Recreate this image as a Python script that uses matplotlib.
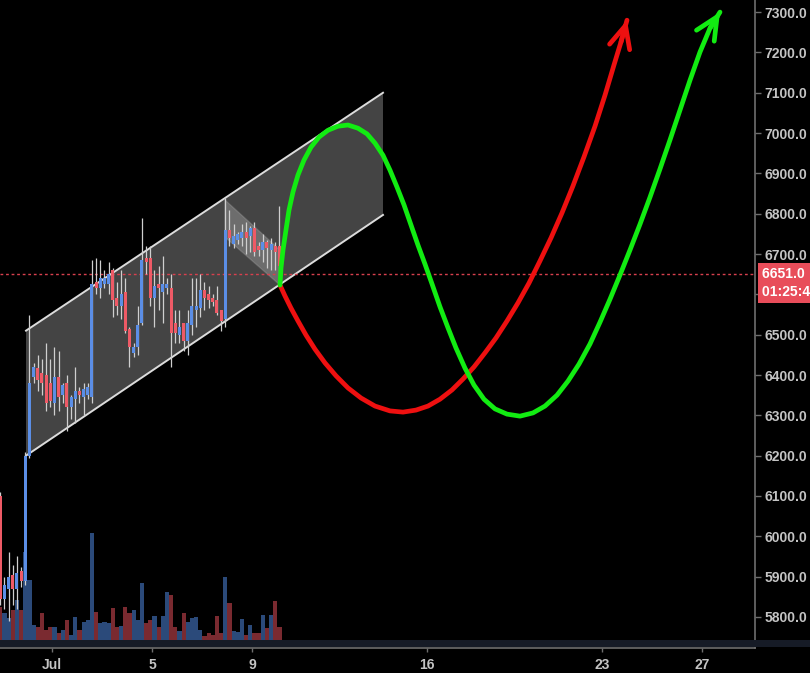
import numpy as np
import matplotlib
matplotlib.use('Agg')
import matplotlib.pyplot as plt
from matplotlib.patches import Polygon, Rectangle
from matplotlib.transforms import blended_transform_factory, offset_copy

# ---------------- data ----------------
# 4-hour candles; time in days of July (1 = Jul 1)
candle_t0 = -1.067
candle_step = 1 / 6
opens = [6100, 5845, 5870, 5905, 5870, 5915, 5890, 6200,
         6395, 6417, 6405, 6400, 6380, 6330, 6395, 6350, 6380, 6320, 6340, 6360, 6345, 6350,
         6345, 6630, 6615, 6625, 6625, 6660, 6590, 6570, 6605, 6515, 6455, 6470,
         6530, 6690, 6690, 6590, 6625, 6605, 6615, 6615, 6530, 6500, 6530, 6485, 6525, 6560, 6565, 6610,
         6600, 6590, 6585, 6560,
         6540, 6760, 6725, 6735, 6740, 6755, 6745, 6765, 6720, 6710, 6730, 6710, 6720, 6720]
closes = [5845, 5880, 5900, 5870, 5910, 5890, 6200, 6380,
          6420, 6388, 6380, 6330, 6335, 6395, 6345, 6375, 6320, 6345, 6360, 6350, 6365, 6370,
          6625, 6615, 6640, 6640, 6650, 6585, 6570, 6600, 6510, 6470, 6470, 6525,
          6685, 6680, 6590, 6620, 6615, 6625, 6625, 6505, 6505, 6520, 6485, 6530, 6570, 6570, 6610, 6590,
          6585, 6580, 6555, 6535,
          6760, 6740, 6745, 6750, 6755, 6740, 6765, 6705, 6710, 6730, 6715, 6725, 6705, 6670]
highs = [6110, 5900, 5960, 5930, 5950, 5925, 6210, 6550,
         6430, 6450, 6440, 6480, 6440, 6470, 6460, 6380, 6400, 6350, 6420, 6370, 6380, 6380,
         6685, 6690, 6685, 6660, 6680, 6665, 6630, 6660, 6640, 6520, 6480, 6570,
         6790, 6720, 6720, 6660, 6670, 6695, 6640, 6650, 6560, 6560, 6530, 6560, 6640, 6640, 6650, 6630,
         6620, 6600, 6620, 6560,
         6840, 6810, 6775, 6755, 6775, 6780, 6770, 6780, 6730, 6750, 6735, 6740, 6730, 6820]
lows = [5830, 5820, 5790, 5830, 5820, 5875, 5880, 6195,
        6380, 6360, 6350, 6310, 6320, 6300, 6310, 6330, 6260, 6290, 6280, 6330, 6300, 6340,
        6330, 6600, 6590, 6615, 6600, 6545, 6550, 6540, 6505, 6420, 6445, 6450,
        6525, 6650, 6570, 6520, 6560, 6530, 6600, 6420, 6480, 6480, 6460, 6450, 6500, 6520, 6545, 6560,
        6565, 6570, 6550, 6510,
        6520, 6720, 6715, 6725, 6720, 6700, 6705, 6695, 6695, 6680, 6665, 6660, 6660, 6620]
volumes = [33, 27, 22, 30, 40, 30, 88, 60,
           15, 13, 27, 10, 13, 13, 7, 10, 20, 5, 23, 10, 18, 20,
           107, 28, 17, 18, 17, 32, 13, 14, 33, 27, 30, 20,
           57, 17, 20, 24, 13, 24, 48, 45, 13, 9, 27, 18, 22, 23, 10, 4,
           7, 5, 24, 7,
           63, 37, 9, 8, 21, 5, 15, 7, 7, 25, 12, 25, 39, 13]

# rising channel (days, price)
channel_days = [-0.04, 14.24]
channel_upper = [6510, 7100]
channel_lower = [6200, 6797]
# bull flag
flag_days = [7.92, 10.12, 10.12, 7.92]
flag_prices = [6834, 6710, 6623, 6742]

# projected paths
green_days = [10.12, 10.16, 10.24, 10.36, 10.48, 10.64, 10.84, 11.08, 11.36, 11.68, 12.04, 12.44,
              12.84, 13.24, 13.60, 13.92, 14.24, 14.52, 14.80, 15.08, 15.36, 15.64, 15.92, 16.20,
              16.52, 16.84, 17.16, 17.52, 17.88, 18.28, 18.72, 19.20, 19.72, 20.24, 20.72, 21.20,
              21.64, 22.08, 22.52, 22.92, 23.32, 23.72, 24.12, 24.52, 24.92, 25.32, 25.72, 26.12,
              26.52, 26.92, 27.32, 27.72]
green_prices = [6623, 6665, 6710, 6760, 6809, 6854, 6896, 6933, 6965, 6990, 7007, 7017,
                7020, 7012, 6998, 6975, 6945, 6908, 6866, 6822, 6772, 6722, 6675, 6626,
                6569, 6517, 6467, 6417, 6375, 6340, 6316, 6303, 6298, 6306, 6323, 6350,
                6385, 6427, 6477, 6531, 6588, 6648, 6710, 6774, 6841, 6911, 6983, 7057,
                7131, 7201, 7260, 7300]
red_days = [10.12, 10.32, 10.56, 10.84, 11.16, 11.52, 11.92, 12.36, 12.84, 13.36, 13.92, 14.52,
            15.04, 15.56, 16.04, 16.52, 17.00, 17.44, 17.88, 18.32, 18.76, 19.20, 19.64, 20.08,
            20.52, 20.96, 21.40, 21.84, 22.28, 22.72, 23.12, 23.48, 23.76, 24.00]
red_prices = [6623, 6596, 6566, 6534, 6499, 6464, 6430, 6398, 6368, 6343, 6323, 6311,
              6308, 6313, 6323, 6340, 6363, 6390, 6420, 6455, 6492, 6534, 6579, 6628,
              6683, 6740, 6802, 6869, 6941, 7017, 7094, 7169, 7226, 7280]

last_price = 6651.0
countdown = '01:25:42'
xtick_days = [1, 5, 9, 16, 23, 27]
xtick_labels = ['Jul', '5', '9', '16', '23', '27']
ytick_values = list(range(5800, 7301, 100))

# ---------------- style ----------------
BG = '#000000'
UP = '#5b8ee6'
DN = '#ee5a66'
VUP = '#2b4a7a'
VDN = '#7a2a30'
WICK = '#cfcfcf'
TXT = '#c4c4c4'
AXC = '#6e6e6e'
FONT = 'Liberation Sans'
GREEN = '#12ec12'
RED = '#ee1010'

W, H = 810, 673
fig = plt.figure(figsize=(W / 100, H / 100), dpi=100, facecolor=BG)
ax_bottom = (H - 648) / H
ax = fig.add_axes([0, ax_bottom, 755 / W, 648 / H])
ax2 = ax.twinx()
ax.set_zorder(2)
ax.patch.set_visible(False)
ax2.set_zorder(1)
ax2.patch.set_facecolor(BG)

ax.set_xlim(-1.08, 29.12)
ax.set_ylim(5723, 7330)

times = candle_t0 + np.arange(len(opens)) * candle_step
o = np.array(opens); c = np.array(closes)
hi = np.array(highs); lo = np.array(lows)
up = c >= o

# volume
ax2.bar(times, volumes, width=candle_step, color=np.where(up, VUP, VDN), linewidth=0)
ax2.set_ylim(-8, 640)
ax2.set_yticks([])
for s in ax2.spines.values():
    s.set_visible(False)

# channel
ch_poly = Polygon(list(zip(channel_days, channel_upper)) + list(zip(channel_days[::-1], channel_lower[::-1])),
                  closed=True, facecolor='#ffffff', alpha=0.27, edgecolor='none', zorder=1)
ax.add_patch(ch_poly)
ax.plot(channel_days, channel_upper, color='#dcdcdc', lw=1.4, zorder=2)
ax.plot(channel_days, channel_lower, color='#dcdcdc', lw=1.4, zorder=2)
flag_poly = Polygon(list(zip(flag_days, flag_prices)), closed=True, facecolor='#ffffff', alpha=0.22,
                    edgecolor='#c8c8c8', lw=1.0, zorder=2)
ax.add_patch(flag_poly)

# candles
ax.vlines(times, lo, hi, color=WICK, lw=0.9, zorder=3)
ax.bar(times, np.abs(c - o), bottom=np.minimum(o, c), width=candle_step * 0.72,
       color=np.where(up, UP, DN), linewidth=0, zorder=4)

# last price line
ax.axhline(last_price, color='#d8404e', lw=1.0, ls=(0, (2, 2)), zorder=2)

# projections
LW = 3.4
ARROW = '->,head_length=1.6,head_width=0.75'
ax.plot(red_days, red_prices, color=RED, lw=LW, solid_capstyle='round', solid_joinstyle='round', zorder=6)
ax.annotate('', xy=(red_days[-1], red_prices[-1]), xytext=(red_days[-2], red_prices[-2]),
            arrowprops=dict(arrowstyle=ARROW, color=RED, lw=LW, shrinkA=0, shrinkB=0,
                            capstyle='round', joinstyle='round'), zorder=6)
ax.plot(green_days, green_prices, color=GREEN, lw=LW, solid_capstyle='round', solid_joinstyle='round', zorder=7)
ax.annotate('', xy=(green_days[-1], green_prices[-1]), xytext=(green_days[-2], green_prices[-2]),
            arrowprops=dict(arrowstyle=ARROW, color=GREEN, lw=LW, shrinkA=0, shrinkB=0,
                            capstyle='round', joinstyle='round'), zorder=7)

# axes styling
ax.yaxis.tick_right()
ax.set_yticks(ytick_values)
ax.set_yticklabels([f'{v:.1f}' for v in ytick_values])
ax.set_xticks(xtick_days)
ax.set_xticklabels(xtick_labels)
ax.tick_params(axis='y', colors=AXC, labelcolor=TXT, length=4, width=1, pad=3, labelsize=10)
ax.tick_params(axis='x', colors=AXC, labelcolor=TXT, length=3, width=1, pad=4, labelsize=10)
for lab in ax.get_xticklabels() + ax.get_yticklabels():
    lab.set_fontfamily(FONT)
    lab.set_fontweight('bold')
for k in ['top', 'left']:
    ax.spines[k].set_visible(False)
for k in ['bottom', 'right']:
    ax.spines[k].set_color(AXC)
    ax.spines[k].set_linewidth(1.2)

# bottom dark strip
fig.add_artist(Rectangle((0, (H - 647) / H), 1, 7 / H, transform=fig.transFigure,
                         facecolor='#161b26', edgecolor='none', zorder=10))

# price labels
btr = blended_transform_factory(ax.transAxes, ax.transData)
ax.text(1.0, last_price, '6651.0      ', transform=offset_copy(btr, fig=fig, x=7, y=0, units='dots'),
        ha='left', va='center', color='#ffffff', fontsize=10, fontweight='bold', family=FONT,
        bbox=dict(boxstyle='square,pad=0.3', fc='#e84d5a', ec='none'), zorder=20, clip_on=False)
ax.text(1.0, last_price, countdown + '    ', transform=offset_copy(btr, fig=fig, x=7, y=-18, units='dots'),
        ha='left', va='center', color='#ffffff', fontsize=10, fontweight='bold', family=FONT,
        bbox=dict(boxstyle='square,pad=0.3', fc='#e84d5a', ec='none'), zorder=20, clip_on=False)

fig.savefig('out.png', dpi=100, facecolor=BG)
